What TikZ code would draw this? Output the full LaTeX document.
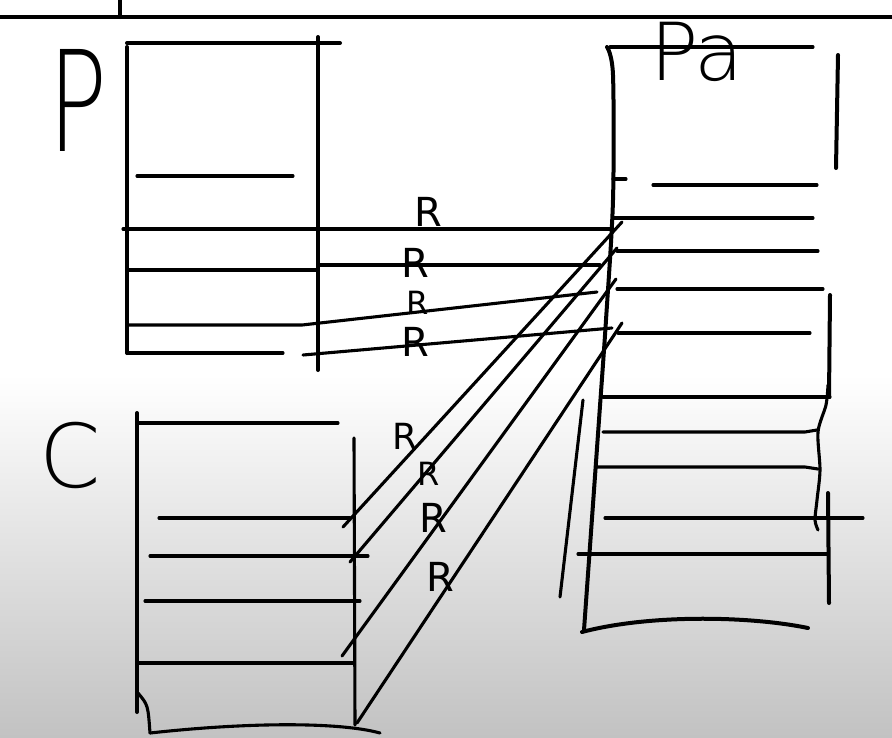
\documentclass[tikz,border=0pt]{standalone}
\usepackage{fontspec}
\newfontfamily\hand{DejaVu Sans ExtraLight}
\newfontfamily\handr{DejaVu Sans}
\begin{document}
\begin{tikzpicture}[x=1pt,y=-1pt,
  ink/.style={line width=4pt,line cap=round,line join=round},
  thinink/.style={line width=3.1pt,line cap=round,line join=round},
  lab/.style={inner sep=0pt,font=\hand},
  rlab/.style={inner sep=0pt,font=\handr\fontsize{40}{40}\selectfont}]
\useasboundingbox (0,0) rectangle (892,737);
\fill[white] (0,0) rectangle (892,381);
\shade[top color=white,bottom color={rgb,255:red,194;green,194;blue,194}] (0,375) rectangle (892,737);
% top frame
\draw[ink] (0,17) -- (892,17);
\draw[ink] (120,0) -- (120,17);
% ---------- P block
\draw[ink] (127,47) -- (127,353);
\draw[ink] (127,43) -- (340,43);
\draw[ink] (318,37) -- (318,370);
\draw[thinink] (137,176) -- (293,176);
\draw[thinink] (123,229) -- (612,229);
\draw[thinink] (127,270) -- (318,270);
\draw[thinink] (318,265) -- (600,265);
\draw[thinink] (127,325) -- (302,325) -- (597,292);
\draw[thinink] (127,353) -- (283,353);
\draw[thinink] (303,355) -- (612,328);
% ---------- Pa block
\draw[ink] plot[smooth] coordinates {(607,47) (613,75) (613,200) (606,320) (599,420) (584,630)};
\draw[ink] (582,632) .. controls (650,614) and (750,616) .. (808,628);
\draw[thinink] (610,47) -- (813,47);
\draw[ink] (838,55) -- (836,168);
\draw[thinink] (653,185) -- (817,185);
\draw[thinink] (613,179) -- (626,179);
\draw[thinink] (613,218) -- (813,218);
\draw[thinink] (617,251) -- (818,251);
\draw[thinink] (617,289) -- (823,289);
\draw[thinink] (618,333) -- (810,333);
\draw[ink] (830,295) -- (829,397);
\draw[thinink] (603,397) -- (830,397);
\draw[thinink] (603,432) -- (805,432) -- (817,430);
\draw[thinink] (597,467) -- (805,467) -- (818,469);
\draw[thinink] plot[smooth] coordinates {(828,385) (826,405) (818,432) (820,470) (817,500) (815,520) (818,530)};
\draw[thinink] (605,518) -- (863,518);
\draw[ink] (828,493) -- (829,603);
\draw[thinink] (578,554) -- (828,554);
\draw[thinink] (583,400) -- (560,597);
% ---------- C block
\draw[ink] (137,413) -- (137,712);
\draw[thinink] (137,423) -- (338,423);
\draw[thinink] (354,438) -- (355,725);
\draw[thinink] (159,518) -- (350,518);
\draw[thinink] (150,556) -- (368,556);
\draw[thinink] (145,601) -- (360,601);
\draw[thinink] (137,663) -- (354,663);
\draw[thinink] (138,693) .. controls (148,705) .. (150,733);
\draw[thinink] (150,733) .. controls (250,722) and (340,722) .. (380,733);
% ---------- diagonals C -> Pa
\coordinate (c1) at (343,527); \coordinate (p1) at (622,222);
\coordinate (c2) at (350,562); \coordinate (p2) at (617,248);
\coordinate (c3) at (342,656); \coordinate (p3) at (616,279);
\coordinate (c4) at (357,723); \coordinate (p4) at (622,323);
\draw[thinink] (c1) -- (p1);
\draw[thinink] (c2) -- (p2);
\draw[thinink] (c3) -- (p3);
\draw[thinink] (c4) -- (p4);
% ---------- labels
\node[lab,font=\hand\fontsize{140}{140}\selectfont] (lP) at (78,100) {\scalebox{0.7}[1]{P}};
\node[lab,font=\hand\fontsize{88}{88}\selectfont] (lC) at (70,455) {C};
\node[lab,font=\hand\fontsize{80}{80}\selectfont] (lPa) at (697,52) {Pa};
\node[rlab] (r1) at (428,212) {R};
\node[rlab] (r2) at (415,263) {R};
\node[rlab,font=\handr\fontsize{32}{32}\selectfont] (r3) at (418,303) {R};
\node[rlab] (r4) at (415,342) {R};
\node[rlab,font=\handr\fontsize{36}{36}\selectfont] (r5) at (405,436) {R};
\node[rlab,font=\handr\fontsize{32}{32}\selectfont] (r6) at (429,474) {R};
\node[rlab] (r7) at (433,518) {R};
\node[rlab] (r8) at (440,577) {R};
\end{tikzpicture}
\end{document}
